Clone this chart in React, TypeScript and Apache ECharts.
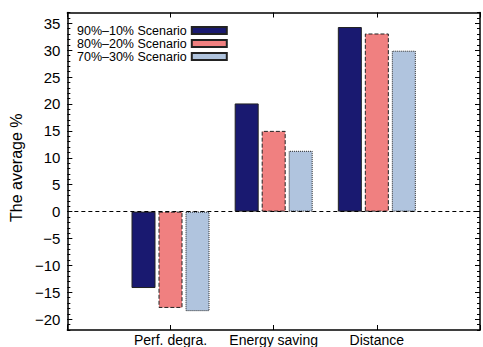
import React, { useEffect, useRef } from "react";
import * as echarts from "echarts";

const categories = ["Perf. degra.", "Energy saving", "Distance"];
const seriesNames = ["90%–10% Scenario", "80%–20% Scenario", "70%–30% Scenario"];
const s90 = [-14.2, 20.1, 34.3];
const s80 = [-17.9, 15.0, 33.1];
const s70 = [-18.5, 11.3, 29.9];
const majorTicks = [-20, -15, -10, -5, 0, 5, 10, 15, 20, 25, 30, 35];
const minorTicks = [
  -22, -21, -20, -19, -18, -17, -16, -15, -14, -13, -12, -11, -10, -9, -8, -7, -6, -5, -4, -3, -2, -1,
  0, 1, 2, 3, 4, 5, 6, 7, 8, 9, 10, 11, 12, 13, 14, 15, 16, 17, 18, 19, 20, 21, 22, 23, 24, 25, 26,
  27, 28, 29, 30, 31, 32, 33, 34, 35, 36, 37,
];
const yMin = -22;
const yMax = 37;

const FONT = "'Liberation Sans', Arial, Helvetica, sans-serif";

export default function App() {
  const ref = useRef<HTMLDivElement>(null);
  useEffect(() => {
    if (!ref.current) return;
    const chart = echarts.init(ref.current, null, { renderer: "svg" });
    const xData = ["", ...categories, ""];
    const pad = (arr: number[]) => ["-", ...arr, "-"];
    const axisLineStyle = { color: "#000", width: 1.5 };
    const baseY = {
      type: "value" as const,
      min: yMin,
      max: yMax,
      splitLine: { show: false },
    };
    const colors = ["#191970", "#F08080", "#B0C4DE"];
    const borderTypes = ["solid", "dashed", "dotted"];
    const vals = [s90, s80, s70];
    chart.setOption({
      animation: false,
      textStyle: { fontFamily: FONT },
      grid: { left: 63, right: 1, top: 12.5, bottom: 16.5 },
      legend: {
        data: seriesNames.map((n) => ({ name: n, icon: "rect" })),
        orient: "vertical",
        left: 72,
        top: 19,
        align: "right",
        itemWidth: 35,
        itemHeight: 7,
        itemGap: 0,
        textStyle: { fontSize: 12.5, color: "#000", fontFamily: FONT, lineHeight: 12.5 },
      },
      xAxis: [
        {
          type: "category",
          data: xData,
          boundaryGap: false,
          position: "bottom",
          axisLine: { onZero: false, lineStyle: axisLineStyle },
          axisTick: { inside: true, length: 5, lineStyle: { color: "#000" } },
          axisLabel: { fontSize: 14, color: "#000", margin: 3, fontFamily: FONT, interval: 0 },
          splitLine: { show: false },
        },
        {
          type: "category",
          data: xData,
          boundaryGap: false,
          position: "top",
          axisLine: { onZero: false, lineStyle: axisLineStyle },
          axisTick: { inside: true, length: 5, lineStyle: { color: "#000" } },
          axisLabel: { show: false },
          splitLine: { show: false },
        },
      ],
      yAxis: [
        {
          ...baseY,
          position: "left",
          name: "The average %",
          nameLocation: "middle",
          nameGap: 34,
          nameTextStyle: { fontSize: 16, color: "#000", fontFamily: FONT, padding: [0, 0, 0, 7] },
          axisLine: { show: true, onZero: false, lineStyle: axisLineStyle },
          axisTick: { show: true, inside: true, length: 5, customValues: majorTicks, lineStyle: { color: "#000" } },
          axisLabel: {
            show: true,
            fontSize: 15,
            color: "#000",
            margin: 7,
            fontFamily: FONT,
            customValues: majorTicks,
            formatter: (v: number) => String(v).replace("-", "\u2212"),
          },
        },
        {
          ...baseY,
          position: "left",
          axisLine: { show: false, onZero: false },
          axisTick: { show: true, inside: true, length: 3, customValues: minorTicks, lineStyle: { color: "#000" } },
          axisLabel: { show: false },
        },
        {
          ...baseY,
          position: "right",
          axisLine: { show: true, onZero: false, lineStyle: axisLineStyle },
          axisTick: { show: true, inside: true, length: 5, customValues: majorTicks, lineStyle: { color: "#000" } },
          axisLabel: { show: false },
        },
        {
          ...baseY,
          position: "right",
          axisLine: { show: false, onZero: false },
          axisTick: { show: true, inside: true, length: 3, customValues: minorTicks, lineStyle: { color: "#000" } },
          axisLabel: { show: false },
        },
      ],
      series: seriesNames.map((name, i) => ({
        name,
        type: "bar",
        xAxisIndex: 0,
        yAxisIndex: 0,
        data: pad(vals[i]),
        barWidth: 24,
        barGap: "12.5%",
        itemStyle: {
          color: colors[i],
          borderColor: "#222",
          borderWidth: 1,
          borderType: borderTypes[i],
        },
        ...(i === 0
          ? {
              markLine: {
                silent: true,
                symbol: "none",
                label: { show: false },
                lineStyle: { type: [4, 3], color: "#000", width: 1 },
                data: [{ yAxis: 0 }],
              },
            }
          : {}),
      })),
    });
    return () => chart.dispose();
  }, []);
  return (
    <div
      ref={ref}
      style={{ position: "fixed", left: 0, top: 0, width: 483, height: 347, background: "#fff" }}
    />
  );
}
